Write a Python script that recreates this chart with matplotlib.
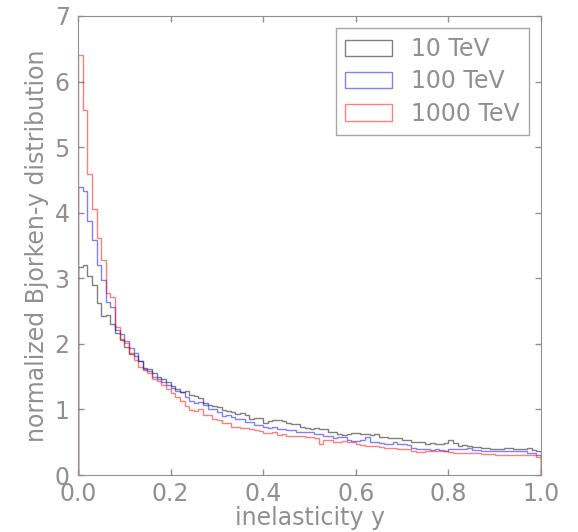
import numpy as np
import matplotlib
matplotlib.use("Agg")
import matplotlib.pyplot as plt

bin_edges = np.linspace(0.0, 1.0, 101)

y_10tev = [3.17, 3.21, 3.03, 2.90, 2.63, 2.43, 2.44, 2.31, 2.17, 2.06,
           1.95, 1.84, 1.81, 1.74, 1.64, 1.61, 1.55, 1.49, 1.46, 1.42,
           1.36, 1.31, 1.27, 1.28, 1.22, 1.20, 1.18, 1.10, 1.07, 1.05,
           1.04, 0.99, 0.98, 0.96, 0.93, 0.95, 0.92, 0.86, 0.87, 0.87,
           0.80, 0.83, 0.84, 0.84, 0.82, 0.80, 0.78, 0.78, 0.74, 0.72,
           0.71, 0.72, 0.70, 0.71, 0.66, 0.65, 0.62, 0.61, 0.62, 0.64,
           0.64, 0.63, 0.63, 0.61, 0.62, 0.58, 0.58, 0.57, 0.57, 0.57,
           0.54, 0.54, 0.50, 0.50, 0.50, 0.48, 0.49, 0.48, 0.48, 0.49,
           0.53, 0.49, 0.45, 0.46, 0.44, 0.43, 0.43, 0.42, 0.42, 0.40,
           0.39, 0.39, 0.41, 0.41, 0.40, 0.40, 0.40, 0.41, 0.38, 0.37]

y_100tev = [4.39, 4.33, 3.87, 3.58, 3.20, 2.97, 2.64, 2.57, 2.21, 2.15,
            2.05, 1.93, 1.86, 1.74, 1.62, 1.59, 1.50, 1.47, 1.42, 1.37,
            1.32, 1.28, 1.27, 1.19, 1.13, 1.10, 1.12, 1.07, 1.01, 1.01,
            0.96, 0.90, 0.91, 0.88, 0.86, 0.86, 0.81, 0.81, 0.77, 0.77,
            0.74, 0.72, 0.74, 0.70, 0.70, 0.69, 0.68, 0.66, 0.66, 0.66,
            0.65, 0.63, 0.63, 0.60, 0.60, 0.57, 0.58, 0.58, 0.53, 0.52,
            0.52, 0.53, 0.58, 0.51, 0.50, 0.49, 0.48, 0.47, 0.50, 0.48,
            0.48, 0.46, 0.41, 0.40, 0.40, 0.39, 0.38, 0.39, 0.38, 0.37,
            0.40, 0.40, 0.39, 0.40, 0.41, 0.38, 0.38, 0.36, 0.36, 0.36,
            0.37, 0.37, 0.36, 0.36, 0.36, 0.36, 0.36, 0.33, 0.33, 0.30]

y_1000tev = [6.41, 5.56, 4.59, 4.05, 3.61, 3.28, 2.78, 2.71, 2.26, 2.07,
             2.02, 1.86, 1.76, 1.65, 1.60, 1.56, 1.46, 1.43, 1.38, 1.31,
             1.25, 1.19, 1.13, 1.05, 0.99, 0.98, 1.00, 0.91, 0.92, 0.86,
             0.84, 0.80, 0.79, 0.74, 0.74, 0.72, 0.72, 0.70, 0.68, 0.67,
             0.64, 0.64, 0.65, 0.61, 0.62, 0.60, 0.59, 0.59, 0.59, 0.58,
             0.58, 0.56, 0.48, 0.53, 0.53, 0.51, 0.51, 0.52, 0.51, 0.50,
             0.48, 0.46, 0.45, 0.45, 0.44, 0.43, 0.42, 0.42, 0.41, 0.40,
             0.40, 0.40, 0.36, 0.35, 0.35, 0.37, 0.36, 0.36, 0.36, 0.36,
             0.35, 0.34, 0.34, 0.33, 0.33, 0.33, 0.33, 0.32, 0.32, 0.32,
             0.30, 0.31, 0.31, 0.31, 0.31, 0.31, 0.30, 0.30, 0.30, 0.28]

labels = ["10 TeV", "100 TeV", "1000 TeV"]
colors = ["black", "blue", "red"]
x_ticks = [0.0, 0.2, 0.4, 0.6, 0.8, 1.0]
y_ticks = [0, 1, 2, 3, 4, 5, 6, 7]

gray = "#909090"
fs = 17
plt.rcParams["font.family"] = "DejaVu Sans"
plt.rcParams["font.size"] = fs

fig = plt.figure(figsize=(5.78, 5.32), dpi=100)
ax = fig.add_axes([0.135, 0.107, 0.801, 0.863])

centers = 0.5 * (bin_edges[:-1] + bin_edges[1:])
for vals, lab, col in zip([y_10tev, y_100tev, y_1000tev], labels, colors):
    ax.hist(centers, bins=bin_edges, weights=vals, histtype="step",
            color=col, alpha=0.5, linewidth=1.0, label=lab)

ax.set_xlim(0, 1)
ax.set_ylim(0, 7)
ax.set_xticks(x_ticks)
ax.set_yticks(y_ticks)
ax.set_xticklabels([f"{t:.1f}" for t in x_ticks])
ax.set_yticklabels([str(t) for t in y_ticks])
ax.tick_params(direction="in", top=True, right=True, colors=gray,
               labelcolor=gray, length=4, width=1, labelsize=fs)
ax.tick_params(axis="x", pad=5)
ax.tick_params(axis="y", pad=6)
for sp in ax.spines.values():
    sp.set_color(gray)
ax.set_xlabel("inelasticity y", color=gray, fontsize=fs, labelpad=0)
ax.set_ylabel("normalized Bjorken-y distribution", color=gray, fontsize=fs,
              labelpad=4)

leg = ax.legend(loc="upper right", fontsize=fs, fancybox=False,
                handlelength=2.0, labelspacing=0.35, labelcolor=gray)
leg.get_frame().set_edgecolor(gray)
leg.get_frame().set_linewidth(1.0)

fig.savefig("out.png", dpi=100)
